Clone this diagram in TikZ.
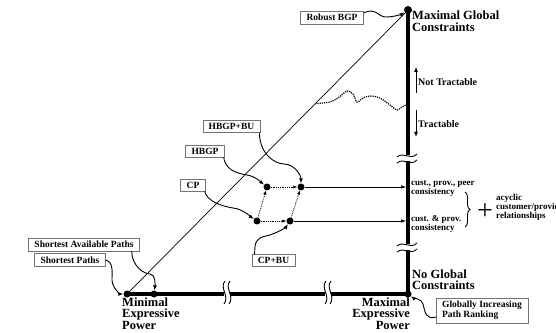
\documentclass[tikz,border=0pt]{standalone}
\usepackage{fontspec}
\setmainfont{Liberation Serif}
\usetikzlibrary{calc,arrows.meta,decorations.pathreplacing}
% break marks on the two thick axes
\def\brkx(#1){\fill[white] (#1-3,34) rectangle (#1+3,42);
	\draw[line width=0.9pt] (#1-2,51) .. controls (#1-8,44) and (#1+3,36) .. (#1-3,28);
	\draw[line width=0.9pt] (#1+3,51) .. controls (#1-3,44) and (#1+8,36) .. (#1+2,28);}
\def\brky(#1){\fill[white] (404,#1-3) rectangle (412,#1+3);
	\draw[line width=0.9pt] (397,#1+1) .. controls (404,#1+7) and (410,#1-3) .. (417,#1+4);
	\draw[line width=0.9pt] (397,#1-5) .. controls (404,#1+1) and (410,#1-9) .. (417,#1-2);}
\tikzset{
	dot/.style={circle, fill=black, inner sep=0pt, minimum size=7pt},
	lbox/.style={draw=black!55, fill=white, inner xsep=6pt, inner ysep=3pt, align=left,
		font=\bfseries\fontsize{9.5}{10}\selectfont},
	bigl/.style={inner sep=0pt, align=left, font=\bfseries\fontsize{12.5}{11.5}\selectfont},
	smal/.style={inner sep=0pt, align=left, font=\bfseries\fontsize{9}{8}\selectfont},
	curv/.style={line width=0.9pt, -{Latex[length=5pt,width=4pt]}},
	dotarr/.style={line width=0.8pt, densely dotted, -{Latex[length=4pt,width=3.5pt]}},
	thinarr/.style={line width=0.5pt, shorten >=2pt, -{Latex[length=5pt,width=3.5pt]}},
	axis/.style={line width=3.5pt}
}
\begin{document}
\begin{tikzpicture}[x=1pt,y=1pt]
		%%%%% START %%%%%
		\useasboundingbox (0,0) rectangle (556,332);
		
		\node[dot, minimum size=8pt] (top) at (408,322) {};
		\node[dot] (maxp) at (408,38) {};
		\node[dot] (minp) at (127,38) {};
		\node[dot] (sapd) at (154,38) {};
		
		\draw[axis] (minp.center) -- (maxp.center) -- (top.center);
		\draw[line width=0.7pt] (minp.center) -- (top.center);
		
		\brkx(227)
		\brkx(328)
		\brky(174)
		\brky(85)
		
		\node[bigl, anchor=north west] (mgc) at (412,321) {Maximal Global\\Constraints};
		\node[bigl, anchor=south west] (ngc) at (412,42) {No Global\\Constraints};
		\node[bigl, anchor=north west, font=\bfseries\fontsize{12.5}{10.8}\selectfont] (mep) at (122,34) {Minimal\\Expressive\\Power};
		\node[bigl, anchor=north east, align=right, font=\bfseries\fontsize{12.5}{10.8}\selectfont] (xep) at (410,34) {Maximal\\Expressive\\Power};
		
		% tractable / not tractable
		\node[smal, font=\bfseries\fontsize{10}{10}\selectfont, anchor=west] (ntr) at (418,250) {Not Tractable};
		\node[smal, font=\bfseries\fontsize{10}{10}\selectfont, anchor=west] (tr) at (418,208) {Tractable};
		\draw[line width=0.8pt, -{Latex[length=5pt,width=4pt]}] ($(ntr.west)+(-2,-11)$) -- ($(ntr.west)+(-2,15)$);
		\draw[line width=0.8pt, -{Latex[length=5pt,width=4pt]}] ($(tr.west)+(-2,14)$) -- ($(tr.west)+(-2,-13)$);
		
		\coordinate (wa) at ($(minp)!0.67!(top)$);
		\draw[line width=1.2pt, densely dotted] plot[smooth] coordinates {(wa) (330,230) (338,234) (347,241) (353,238) (357,230) (363,234) (370,236) (380,234) (390,227) (397,222) (402,225) (406,227)};
		
		% HBGP / CP cluster
		\node[dot] (hbd) at (267,145) {};
		\node[dot] (hbud) at (301,145) {};
		\node[dot] (cpd) at (257,111) {};
		\node[dot] (cpbud) at (290,111) {};
		\draw[dotarr] (hbd) -- (hbud);
		\draw[dotarr] (cpd) -- (cpbud);
		\draw[dotarr] (cpd) -- (hbd);
		\draw[dotarr] (cpbud) -- (hbud);
		\draw[thinarr] (hbud) -- (hbud -| top);
		\draw[thinarr] (cpbud) -- (cpbud -| top);
		
		\node[smal, anchor=north west] (cpp) at (411,152) {cust., prov., peer\\consistency};
		\node[smal, anchor=north west] (cp2) at (411,117) {cust. \& prov.\\consistency};
		\draw[line width=0.9pt, decorate, decoration={brace, amplitude=5pt}] (465,140) -- (465,105);
		\node[inner sep=0pt, font=\fontsize{28}{28}\selectfont] (plus) at (485,120) {+};
		\node[smal, anchor=north west] (acy) at (496,138) {acyclic\\customer/provider\\relationships};
		
		% labelled boxes
		\node[lbox] (rbgp) at (332,314.5) {Robust BGP};
		\node[lbox] (hbu) at (231.5,205.5) {HBGP+BU};
		\node[lbox] (hb) at (205,181) {HBGP};
		\node[lbox] (cp) at (193,147) {CP};
		\node[lbox] (cpbu) at (273.5,71.5) {CP+BU};
		\node[lbox] (sap) at (84,87.5) {Shortest Available Paths};
		\node[lbox] (sp) at (70,72) {Shortest Paths};
		\node[lbox] (gipr) at (482,21.5) {Globally Increasing\\Path Ranking};
		
		\draw[curv] ($(rbgp.north east)+(0,-2)$) .. controls +(12,6) and +(-8,0) .. (386,315) .. controls +(8,0) and +(-6,-4) .. (top);
		\draw[curv] ($(hbu.south east)+(-1,0)$) .. controls +(0,-20) and +(-10,0) .. (284,168) .. controls +(10,0) and +(0,12) .. (hbud);
		\draw[curv] ($(hb.south east)+(-1,0)$) .. controls +(2,-12) and +(-12,2) .. (247,157) .. controls +(8,-1) and +(-5,4) .. (hbd);
		\draw[curv] ($(cp.south east)+(-1,0)$) .. controls +(3,-10) and +(-12,2) .. (233,124) .. controls +(10,-1) and +(-6,4) .. (cpd);
		\draw[curv] ($(cpbu.north west)+(3,0)$) .. controls +(0,12) and +(-10,-2) .. (266,96) .. controls +(10,2) and +(-4,-6) .. (cpbud);
		\draw[curv] ($(sap.south east)+(-8,0)$) .. controls +(0,-15) and +(-6,0) .. (150,58) .. controls +(6,0) and +(1,8) .. (sapd);
		\draw[curv] (sp.east) .. controls +(8,-2) and +(0,8) .. (112,52) .. controls +(0,-8) and +(-6,0) .. (minp);
		\draw[curv] ($(gipr.south west)+(0,6)$) .. controls +(-10,-3) and +(2,-8) .. (423,28) .. controls +(-1,5) and +(4,-3) .. (maxp);
		
		%%%%% END %%%%%
\end{tikzpicture}
\end{document}
